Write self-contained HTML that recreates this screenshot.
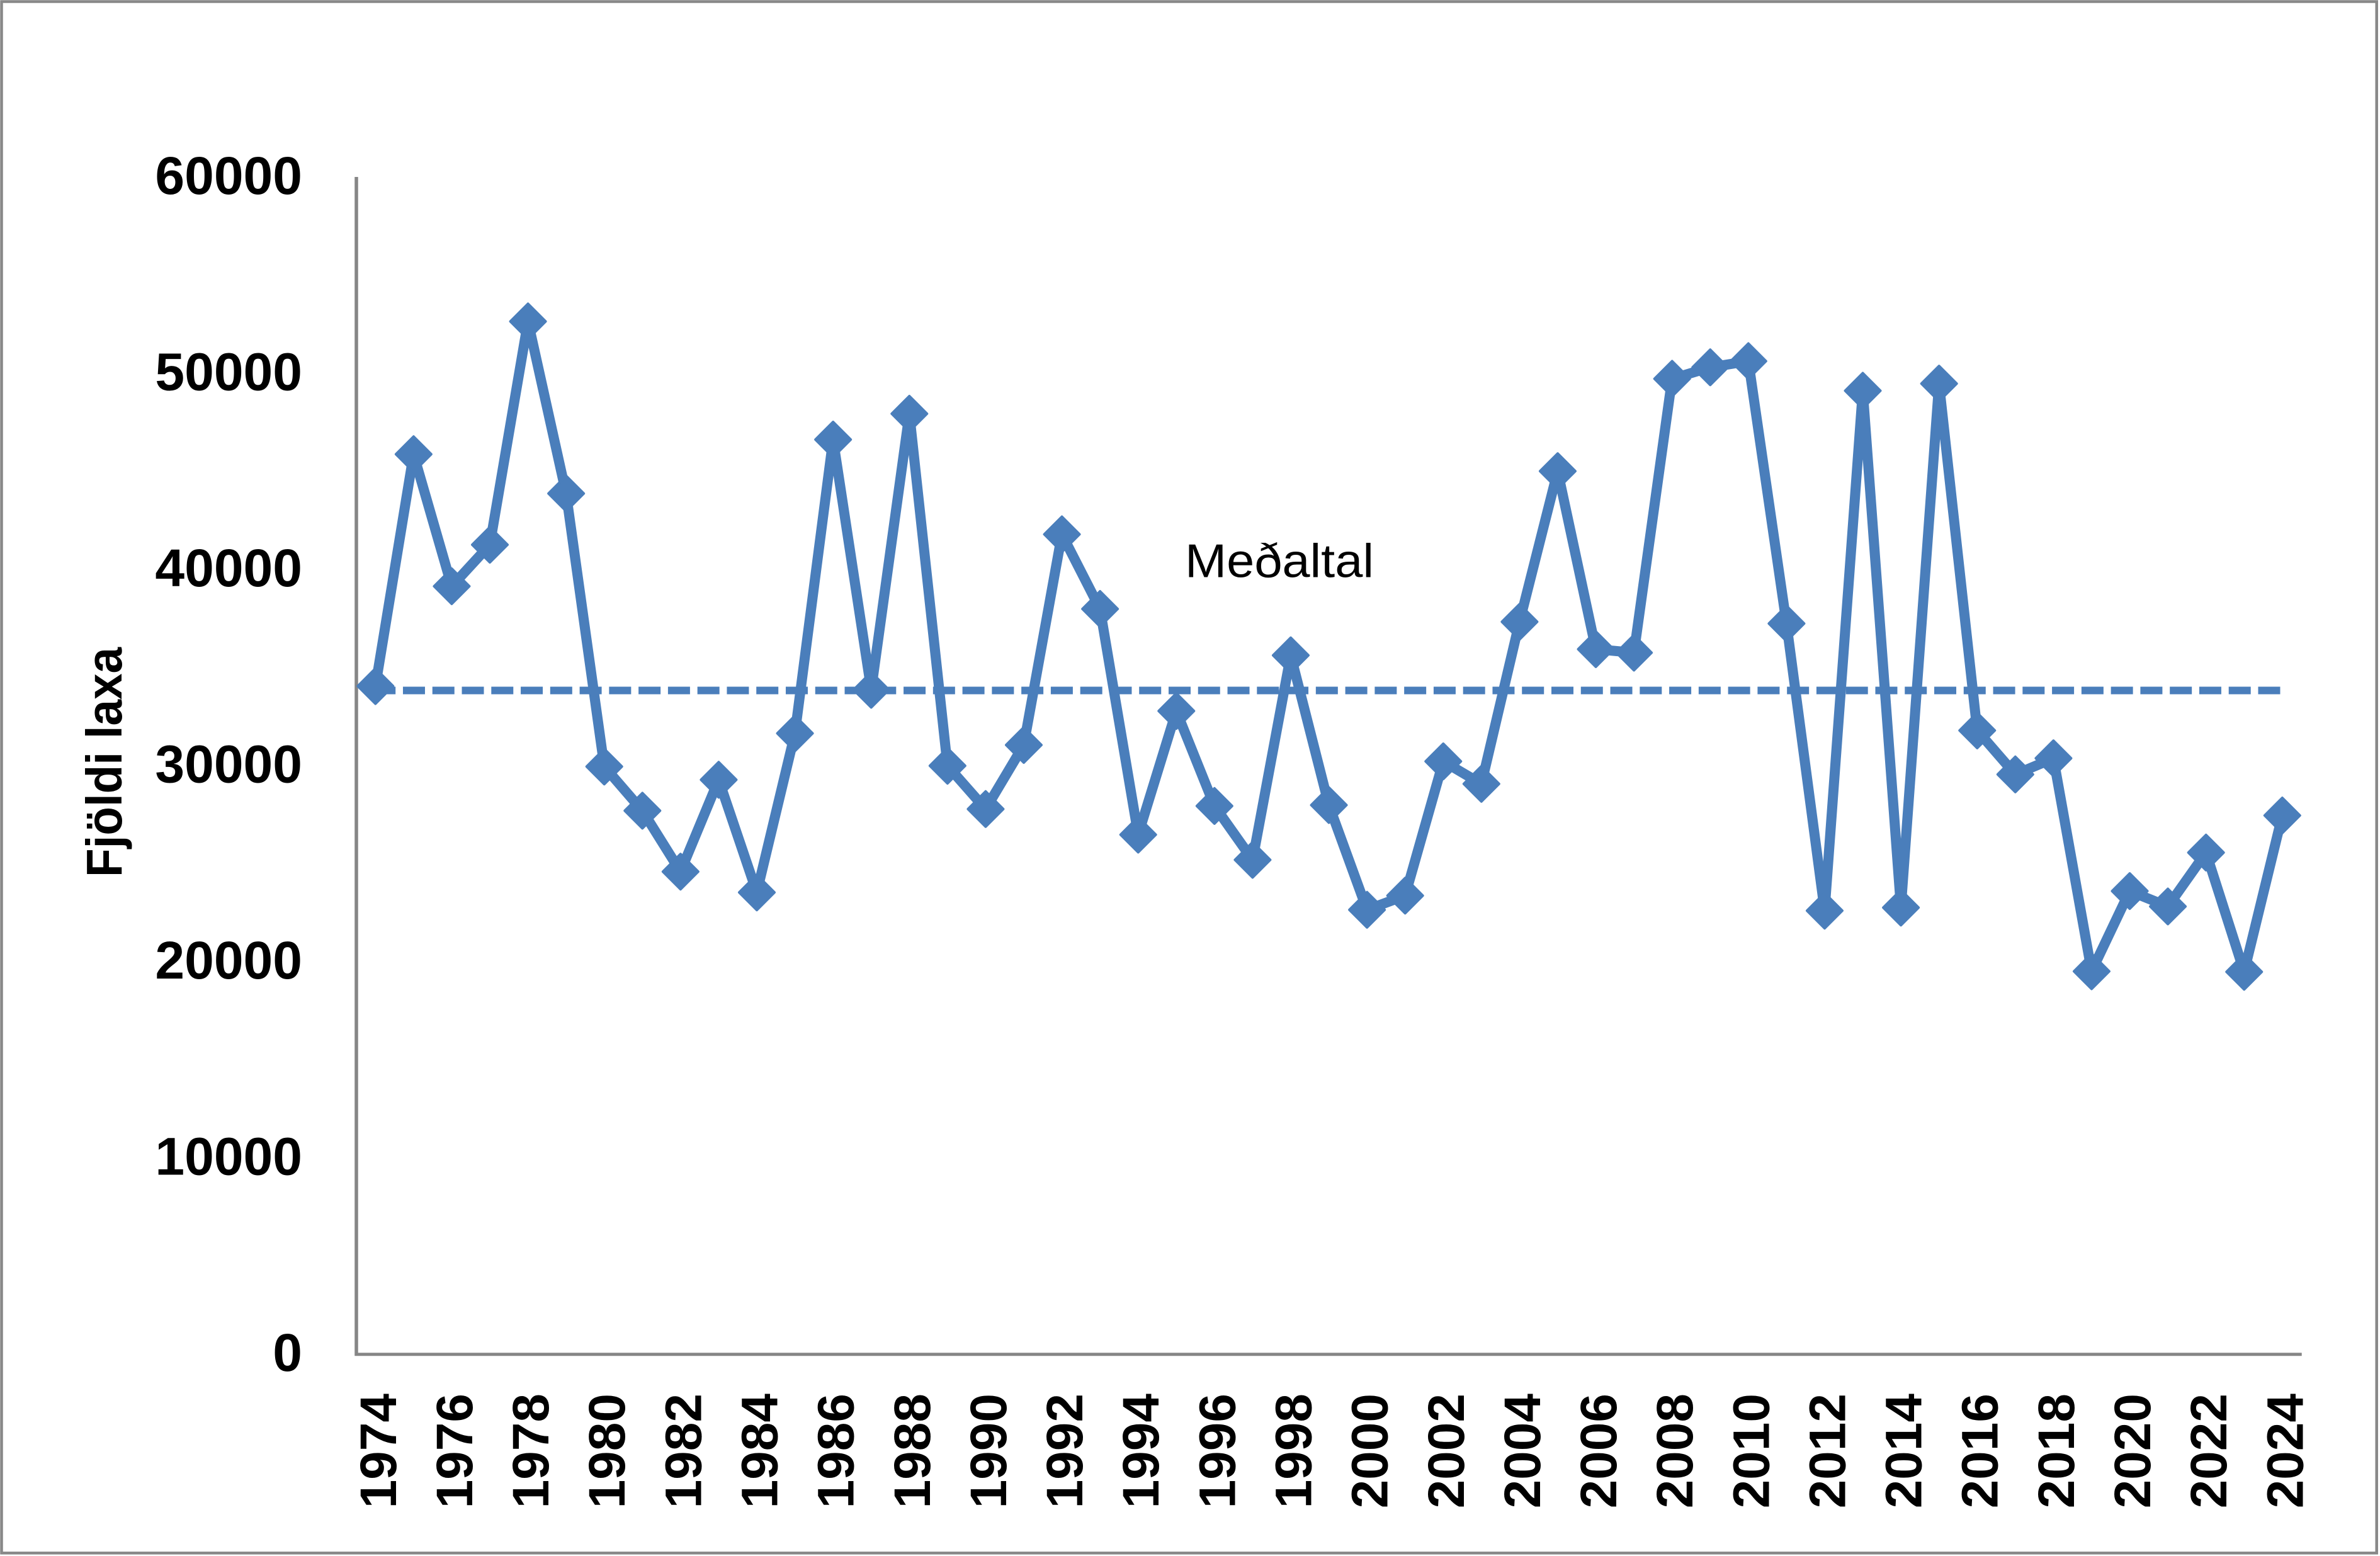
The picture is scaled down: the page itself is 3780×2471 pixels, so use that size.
<!DOCTYPE html>
<html>
<head>
<meta charset="utf-8">
<style>
  html, body { margin: 0; padding: 0; background: #ffffff; }
  body { width: 3780px; height: 2471px; overflow: hidden; }
  svg { display: block; }
  .ylab { font-family: "Liberation Sans", Arial, sans-serif; font-weight: bold; font-size: 84px; fill: #000; }
  .xlab { font-family: "Liberation Sans", Arial, sans-serif; font-weight: bold; font-size: 82px; fill: #000; }
  .title { font-family: "Liberation Sans", Arial, sans-serif; font-weight: bold; font-size: 80px; fill: #000; }
  .med { font-family: "Liberation Sans", Arial, sans-serif; font-size: 75px; fill: #000; }
</style>
</head>
<body>
<svg xmlns="http://www.w3.org/2000/svg" width="3780" height="2471" viewBox="0 0 3780 2471">
  <defs>
    <marker id="dia" markerUnits="userSpaceOnUse" markerWidth="80" markerHeight="80" refX="40" refY="40" viewBox="0 0 80 80" overflow="visible">
      <path d="M40,12 L68,40 L40,68 L12,40 Z" fill="#4a7ebb" stroke="#4a7ebb" stroke-width="4" stroke-linejoin="round"/>
    </marker>
  </defs>
  <rect x="0" y="0" width="3780" height="2471" fill="#ffffff"/>
  <!-- outer border -->
  <rect x="2.5" y="2.5" width="3772.2" height="2463.8" fill="none" stroke="#888888" stroke-width="4.5"/>

  <!-- axes -->
  <line x1="566" y1="281" x2="566" y2="2153" stroke="#868686" stroke-width="5.5"/>
  <line x1="563.5" y1="2150.8" x2="3655.7" y2="2150.8" stroke="#868686" stroke-width="5"/>

  <!-- y-axis labels -->
  <g class="ylab" text-anchor="end">
    <text x="480" y="308">60000</text>
    <text x="480" y="619.5">50000</text>
    <text x="480" y="931">40000</text>
    <text x="480" y="1242.5">30000</text>
    <text x="480" y="1554">20000</text>
    <text x="480" y="1865.5">10000</text>
    <text x="480" y="2177">0</text>
  </g>

  <!-- y-axis title -->
  <text class="title" text-anchor="middle" transform="translate(193,1210.5) rotate(-90)" textLength="365" lengthAdjust="spacingAndGlyphs">Fjöldi laxa</text>

  <!-- mean dashed line -->
  <line x1="596.3" y1="1096.5" x2="3624.8" y2="1096.5" stroke="#4a7ebb" stroke-width="12" stroke-dasharray="35 11.77" stroke-dashoffset="3.1"/>

  <!-- data series -->
  <polyline fill="none" stroke="#4a7ebb" stroke-width="16" stroke-linejoin="round" stroke-linecap="round"
    marker-start="url(#dia)" marker-mid="url(#dia)" marker-end="url(#dia)"
    points="596.3,1089.6 656.87,721.3 717.44,931 778.01,865.1 838.58,510.4 899.15,783.7 959.72,1217.3 1020.29,1287.4 1080.86,1384.2 1141.43,1238.3 1202,1417.2 1262.57,1164.6 1323.14,698.1 1383.71,1095.4 1444.28,657 1504.85,1216.1 1565.42,1284.8 1625.99,1183.1 1686.56,848.5 1747.13,967 1807.7,1325.5 1868.27,1129.1 1928.84,1279.9 1989.41,1365.5 2049.98,1040.7 2110.55,1278.5 2171.12,1444.8 2231.69,1422.3 2292.26,1209.1 2352.83,1244.8 2413.4,987.4 2473.97,748.2 2534.54,1030.9 2595.11,1036.5 2655.68,601.5 2716.25,583.3 2776.82,573.5 2837.39,990.2 2897.96,1446.2 2958.53,620.5 3019.1,1441.3 3079.67,609.2 3140.24,1160 3200.81,1229.8 3261.38,1204.2 3321.95,1542.5 3382.52,1415.1 3443.09,1439.5 3503.66,1353.9 3564.23,1543.3 3624.8,1295"/>

  <!-- Meðaltal label -->
  <text class="med" x="1882" y="916.7" textLength="300" lengthAdjust="spacingAndGlyphs">Meðaltal</text>

  <!-- x-axis labels -->
  <g class="xlab" text-anchor="end">
    <text transform="translate(628.8,2213) rotate(-90)">1974</text>
    <text transform="translate(749.94,2213) rotate(-90)">1976</text>
    <text transform="translate(871.08,2213) rotate(-90)">1978</text>
    <text transform="translate(992.22,2213) rotate(-90)">1980</text>
    <text transform="translate(1113.36,2213) rotate(-90)">1982</text>
    <text transform="translate(1234.5,2213) rotate(-90)">1984</text>
    <text transform="translate(1355.64,2213) rotate(-90)">1986</text>
    <text transform="translate(1476.78,2213) rotate(-90)">1988</text>
    <text transform="translate(1597.92,2213) rotate(-90)">1990</text>
    <text transform="translate(1719.06,2213) rotate(-90)">1992</text>
    <text transform="translate(1840.2,2213) rotate(-90)">1994</text>
    <text transform="translate(1961.34,2213) rotate(-90)">1996</text>
    <text transform="translate(2082.48,2213) rotate(-90)">1998</text>
    <text transform="translate(2203.62,2213) rotate(-90)">2000</text>
    <text transform="translate(2324.76,2213) rotate(-90)">2002</text>
    <text transform="translate(2445.9,2213) rotate(-90)">2004</text>
    <text transform="translate(2567.04,2213) rotate(-90)">2006</text>
    <text transform="translate(2688.18,2213) rotate(-90)">2008</text>
    <text transform="translate(2809.32,2213) rotate(-90)">2010</text>
    <text transform="translate(2930.46,2213) rotate(-90)">2012</text>
    <text transform="translate(3051.6,2213) rotate(-90)">2014</text>
    <text transform="translate(3172.74,2213) rotate(-90)">2016</text>
    <text transform="translate(3293.88,2213) rotate(-90)">2018</text>
    <text transform="translate(3415.02,2213) rotate(-90)">2020</text>
    <text transform="translate(3536.16,2213) rotate(-90)">2022</text>
    <text transform="translate(3657.3,2213) rotate(-90)">2024</text>
  </g>
</svg>
</body>
</html>
